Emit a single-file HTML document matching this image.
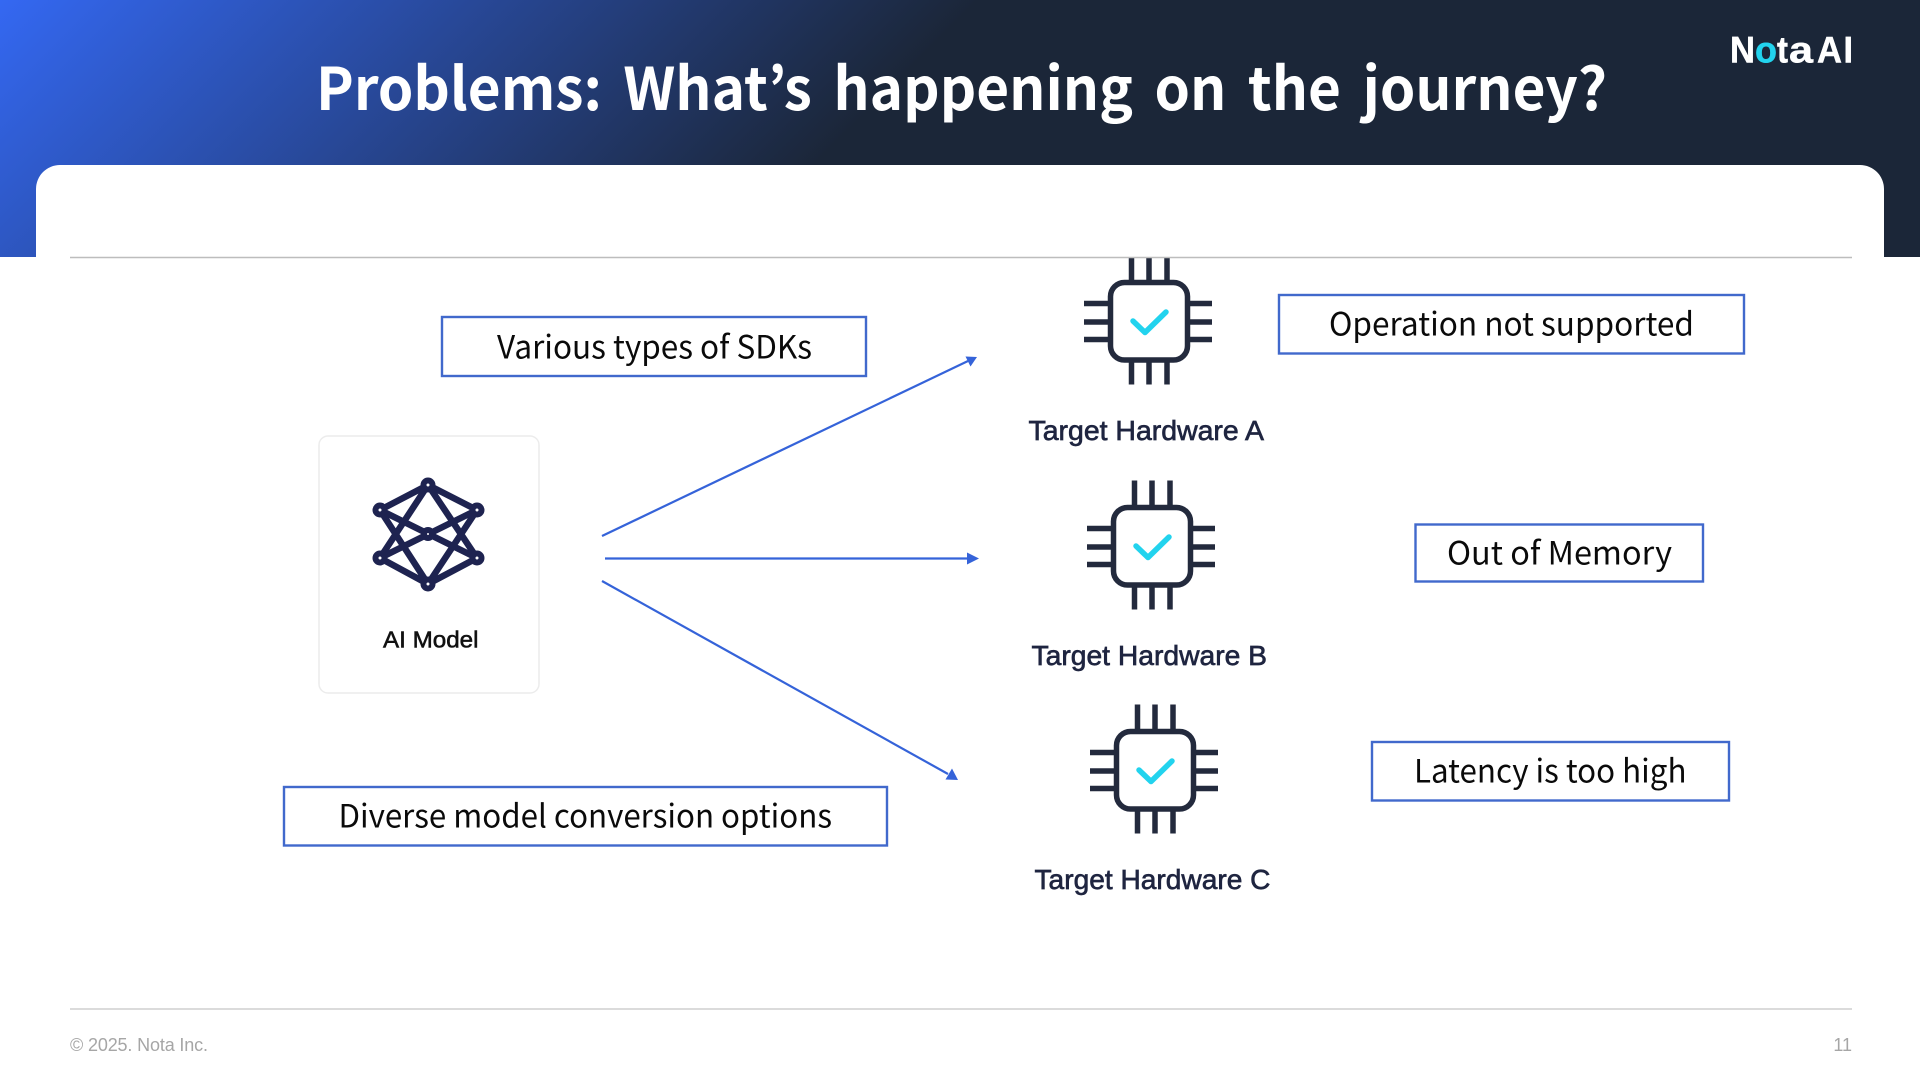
<!DOCTYPE html>
<html lang="en">
<head>
<meta charset="utf-8">
<title>Problems: What's happening on the journey?</title>
<style>
html,body{margin:0;padding:0;background:#fff;width:1920px;height:1080px;overflow:hidden}
svg{display:block}
.n{font-family:"Noto Sans CJK KR","Liberation Sans",sans-serif;font-size:32px;fill:#0a0a0a}
.hw{font-family:"Liberation Sans",sans-serif;font-size:27.5px;fill:#1f2540;stroke:#1f2540;stroke-width:.65}
.lg{font-family:"Liberation Sans",sans-serif;font-weight:700;font-size:37px;fill:#fff;stroke:#fff;stroke-width:.5}
</style>
</head>
<body>
<svg width="1920" height="1080" viewBox="0 0 1920 1080" xmlns="http://www.w3.org/2000/svg">
<defs>
<linearGradient id="g" gradientUnits="userSpaceOnUse" x1="0" y1="0" x2="490" y2="490">
<stop offset="0" stop-color="#3468f2"/>
<stop offset="1" stop-color="#1b2638"/>
</linearGradient>
<g id="chip">
<g stroke="#232a3d" stroke-width="5.5" fill="none">
<path d="M1131.5 255.5V282M1149 255.5V282M1167 255.5V282M1131.5 360V384.5M1149 360V384.5M1167 360V384.5M1084 303.5H1110M1084 322H1110M1084 339.5H1110M1188 303.5H1212M1188 322H1212M1188 339.5H1212"/>
<rect x="1110.5" y="282.5" width="77" height="77.5" rx="14"/>
</g>
<path d="M1133 321L1145 332.5L1166 312" fill="none" stroke="#22d3ee" stroke-width="5.5" stroke-linecap="round" stroke-linejoin="round"/>
</g>
</defs>

<rect x="0" y="0" width="1920" height="257" fill="url(#g)"/>
<path d="M36 257V189a24 24 0 0 1 24-24H1860a24 24 0 0 1 24 24V257Z" fill="#fff"/>

<text x="316" y="110" font-family="'Noto Sans CJK KR','Liberation Sans',sans-serif" font-weight="700" font-size="59" fill="#fff" textLength="1291" lengthAdjust="spacingAndGlyphs" word-spacing="9">Problems: What’s happening on the journey?</text>

<text class="lg" x="1730" y="62.5" textLength="25" lengthAdjust="spacingAndGlyphs">N</text>
<text class="lg" x="1755" y="62.5" textLength="22" lengthAdjust="spacingAndGlyphs" style="fill:#22d3ee;stroke:#22d3ee">o</text>
<text class="lg" x="1777" y="62.5" textLength="11" lengthAdjust="spacingAndGlyphs">t</text>
<text class="lg" x="1789" y="62.5" textLength="24" lengthAdjust="spacingAndGlyphs">a</text>
<text class="lg" x="1817" y="62.5" textLength="25" lengthAdjust="spacingAndGlyphs">A</text>
<text class="lg" x="1843.5" y="62.5" textLength="9.5" lengthAdjust="spacingAndGlyphs">I</text>

<!-- chips -->
<use href="#chip"/>
<use href="#chip" transform="translate(3 225)"/>
<use href="#chip" transform="translate(6 449)"/>
<rect x="1120" y="245" width="60" height="12" fill="#fff"/>

<line x1="70" y1="257.5" x2="1852" y2="257.5" stroke="#bdbdbd" stroke-width="1.5"/>
<line x1="70" y1="1009" x2="1852" y2="1009" stroke="#cfcfcf" stroke-width="1.5"/>

<text x="70" y="1051" font-family="'Liberation Sans',sans-serif" font-size="18" fill="#a6a6a6" textLength="138">© 2025. Nota Inc.</text>
<text x="1852" y="1051" text-anchor="end" font-family="'Liberation Sans',sans-serif" font-size="18" fill="#a6a6a6">11</text>

<!-- AI model card -->
<rect x="319" y="436" width="220" height="257" rx="9" fill="#fff" stroke="#ececec" stroke-width="1.5"/>
<g stroke="#1e2350" stroke-width="6.5" fill="none">
<path d="M428 485L380 510M428 485L477 510M428 584L380 558M428 584L477 558M428 485L380 558M428 485L477 558M428 584L380 510M428 584L477 510M380 510L477 558M477 510L380 558"/>
<g fill="#fff" stroke-width="6">
<circle cx="428" cy="485" r="4.5"/><circle cx="380" cy="510" r="4.5"/><circle cx="477" cy="510" r="4.5"/>
<circle cx="428" cy="534" r="4"/><circle cx="380" cy="558" r="4.5"/><circle cx="477" cy="558" r="4.5"/><circle cx="428" cy="584" r="4.5"/>
</g>
</g>
<text x="383" y="647.5" font-family="'Liberation Sans',sans-serif" font-size="23.5" fill="#111" stroke="#111" stroke-width=".55" textLength="95.5" lengthAdjust="spacingAndGlyphs">AI Model</text>

<!-- connectors -->
<g stroke="#3563d9" stroke-width="2.2" fill="none">
<line x1="602" y1="536" x2="968" y2="361"/>
<line x1="605" y1="558.5" x2="968" y2="558.5"/>
<line x1="602" y1="581" x2="948" y2="774"/>
</g>
<g fill="#3563d9">
<path d="M977 357L965.5 356.5L970.5 366.5Z"/>
<path d="M979 558.5L967 552.5V564.5Z"/>
<path d="M958 780L952 768.5L945.5 779.5Z"/>
</g>

<text class="hw" x="1028.5" y="440" textLength="235.5" lengthAdjust="spacingAndGlyphs">Target Hardware A</text>
<text class="hw" x="1031.5" y="665" textLength="235.5" lengthAdjust="spacingAndGlyphs">Target Hardware B</text>
<text class="hw" x="1034.5" y="889" textLength="236" lengthAdjust="spacingAndGlyphs">Target Hardware C</text>

<!-- label boxes -->
<g fill="#fff" stroke="#4169cc" stroke-width="2.4">
<rect x="442" y="317" width="424" height="59"/>
<rect x="1279" y="295" width="465" height="58.5"/>
<rect x="1415.5" y="524.5" width="287.5" height="57"/>
<rect x="1372" y="742" width="357" height="58.5"/>
<rect x="284" y="787" width="603" height="58.5"/>
</g>
<text class="n" x="497" y="358.5" textLength="315" lengthAdjust="spacingAndGlyphs">Various types of SDKs</text>
<text class="n" x="1329" y="335.5" textLength="365" lengthAdjust="spacingAndGlyphs">Operation not supported</text>
<text class="n" x="1447" y="564.5" textLength="225" lengthAdjust="spacingAndGlyphs">Out of Memory</text>
<text class="n" x="1414" y="782.5" textLength="272.5" lengthAdjust="spacingAndGlyphs">Latency is too high</text>
<text class="n" x="338.5" y="827.5" textLength="493.5" lengthAdjust="spacingAndGlyphs">Diverse model conversion options</text>
</svg>
</body>
</html>
